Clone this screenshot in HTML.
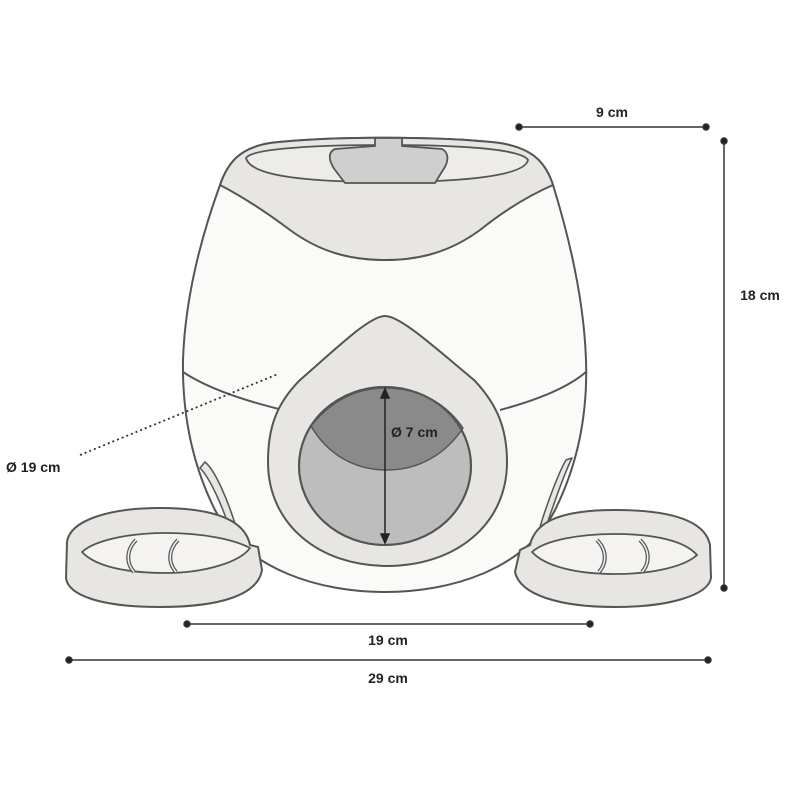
<!DOCTYPE html>
<html><head><style>
html,body{margin:0;padding:0;background:#fff;}
svg{display:block;}
text{font-family:"Liberation Sans",sans-serif;font-weight:bold;font-size:14px;fill:#222;}
</style></head><body>
<svg width="790" height="790" viewBox="0 0 790 790" xmlns="http://www.w3.org/2000/svg">
<rect width="790" height="790" fill="#fff"/>
<g stroke="#555" stroke-width="2" stroke-linejoin="round">
<!-- body -->
<path d="M220,185 C200,240 185,300 183,360 C182,420 195,470 215,510 C245,570 320,592 385,592 C450,592 525,570 555,510 C575,470 588,420 586,360 C584,300 570,240 553,185 C545,160 530,148 500,143 C440,136 330,136 270,143 C240,148 228,162 220,185 Z" fill="#fafaf8"/>
<!-- top band -->
<path d="M220,185 C228,162 240,148 270,143 C330,136 440,136 500,143 C530,148 545,160 553,185 C530,195 505,210 480,230 C450,252 420,260 385,260 C350,260 320,252 290,230 C270,215 245,198 220,185 Z" fill="#e8e6e3"/>
<!-- inner rim -->
<path d="M246,158 C250,150 300,145 385,145 C470,145 522,150 528,160 C525,175 470,182 385,182 C300,182 250,175 246,158 Z" fill="#eeece9" stroke-width="1.8"/>
<!-- tab -->
<path d="M375,138 L375,146 L335,149 C328,152 328,160 335,170 L345,183 L435,183 L443,170 C450,160 448,152 442,149 L402,146 L402,138 Z" fill="#cfcfcf" stroke-width="1.8"/>
<!-- lower band lines -->
<path d="M183,372 C210,390 250,402 283,410" fill="none"/>
<path d="M500,410 C530,402 565,390 586,372" fill="none"/>
<!-- drop -->
<path d="M385,316 C370,316 340,345 300,380 C275,405 268,430 268,462 C268,525 320,566 387,566 C455,566 507,525 507,462 C507,430 498,405 474,380 C432,345 400,316 385,316 Z" fill="#e8e6e3"/>
<ellipse cx="385" cy="466" rx="86" ry="79" fill="#bdbdbd"/>
<path d="M311,426 C330,402 355,388 385,388 C418,388 445,402 463,428 C445,455 418,470 387,470 C355,470 328,455 311,426 Z" fill="#8a8a8a" stroke-width="1.5"/>
<ellipse cx="385" cy="466" rx="86" ry="79" fill="none"/>
<!-- side slots -->
<path d="M205,462 C215,470 228,500 237,530 L232,535 C222,505 210,478 200,468 Z" fill="#e8e6e3" stroke-width="1.5"/>
<path d="M572,458 C566,470 555,500 545,530 L540,527 C548,500 560,470 566,460 Z" fill="#e8e6e3" stroke-width="1.5"/>
<!-- left bowl -->
<path d="M67,542 C70,520 110,508 160,508 C215,508 245,520 250,545 L258,547 L262,570 C258,595 220,607 160,607 C100,607 68,595 66,578 Z" fill="#e8e6e3"/>
<path d="M82,552 C95,540 130,533 165,533 C205,533 235,540 250,548 C240,562 205,573 165,573 C125,573 95,566 82,552 Z" fill="#f4f3f1" stroke-width="1.8"/>
<path d="M136,540 C126,550 126,563 134,572" fill="none" stroke-width="4"/>
<path d="M136,540 C126,550 126,563 134,572" fill="none" stroke="#f4f3f1" stroke-width="1.5"/>
<path d="M178,540 C168,550 168,563 176,572" fill="none" stroke-width="4"/>
<path d="M178,540 C168,550 168,563 176,572" fill="none" stroke="#f4f3f1" stroke-width="1.5"/>
<!-- right bowl -->
<path d="M710,545 C705,520 670,510 615,510 C560,510 535,522 530,545 L520,550 L515,572 C520,595 560,607 615,607 C670,607 708,595 711,578 Z" fill="#e8e6e3"/>
<path d="M532,552 C545,540 580,534 615,534 C655,534 685,541 697,555 C685,566 655,574 615,574 C575,574 545,566 532,552 Z" fill="#f4f3f1" stroke-width="1.8"/>
<path d="M597,540 C607,550 607,563 599,572" fill="none" stroke-width="4"/>
<path d="M597,540 C607,550 607,563 599,572" fill="none" stroke="#f4f3f1" stroke-width="1.5"/>
<path d="M640,540 C650,550 650,563 642,572" fill="none" stroke-width="4"/>
<path d="M640,540 C650,550 650,563 642,572" fill="none" stroke="#f4f3f1" stroke-width="1.5"/>
</g>
<!-- 7cm arrow -->
<g stroke="#222" stroke-width="1.5" fill="#222">
<line x1="385" y1="394" x2="385" y2="538"/>
<path d="M385,389 L381,398 L389,398 Z"/>
<path d="M385,543 L381,534 L389,534 Z"/>
</g>
<!-- dimension lines -->
<g stroke="#333" stroke-width="1.5" fill="#222">
<line x1="519" y1="127" x2="706" y2="127"/><circle cx="519" cy="127" r="3"/><circle cx="706" cy="127" r="3"/>
<line x1="724" y1="141" x2="724" y2="588"/><circle cx="724" cy="141" r="3"/><circle cx="724" cy="588" r="3"/>
<line x1="187" y1="624" x2="590" y2="624"/><circle cx="187" cy="624" r="3"/><circle cx="590" cy="624" r="3"/>
<line x1="69" y1="660" x2="708" y2="660"/><circle cx="69" cy="660" r="3"/><circle cx="708" cy="660" r="3"/>
<line x1="80" y1="455" x2="278" y2="374" stroke-dasharray="2,3" stroke-width="1.8"/>
</g>
<text x="612" y="117" text-anchor="middle">9 cm</text>
<text x="760" y="300" text-anchor="middle">18 cm</text>
<text x="388" y="645" text-anchor="middle">19 cm</text>
<text x="388" y="683" text-anchor="middle">29 cm</text>
<text x="6" y="472">Ø 19 cm</text>
<text x="391" y="437">Ø 7 cm</text>
</svg>
</body></html>
